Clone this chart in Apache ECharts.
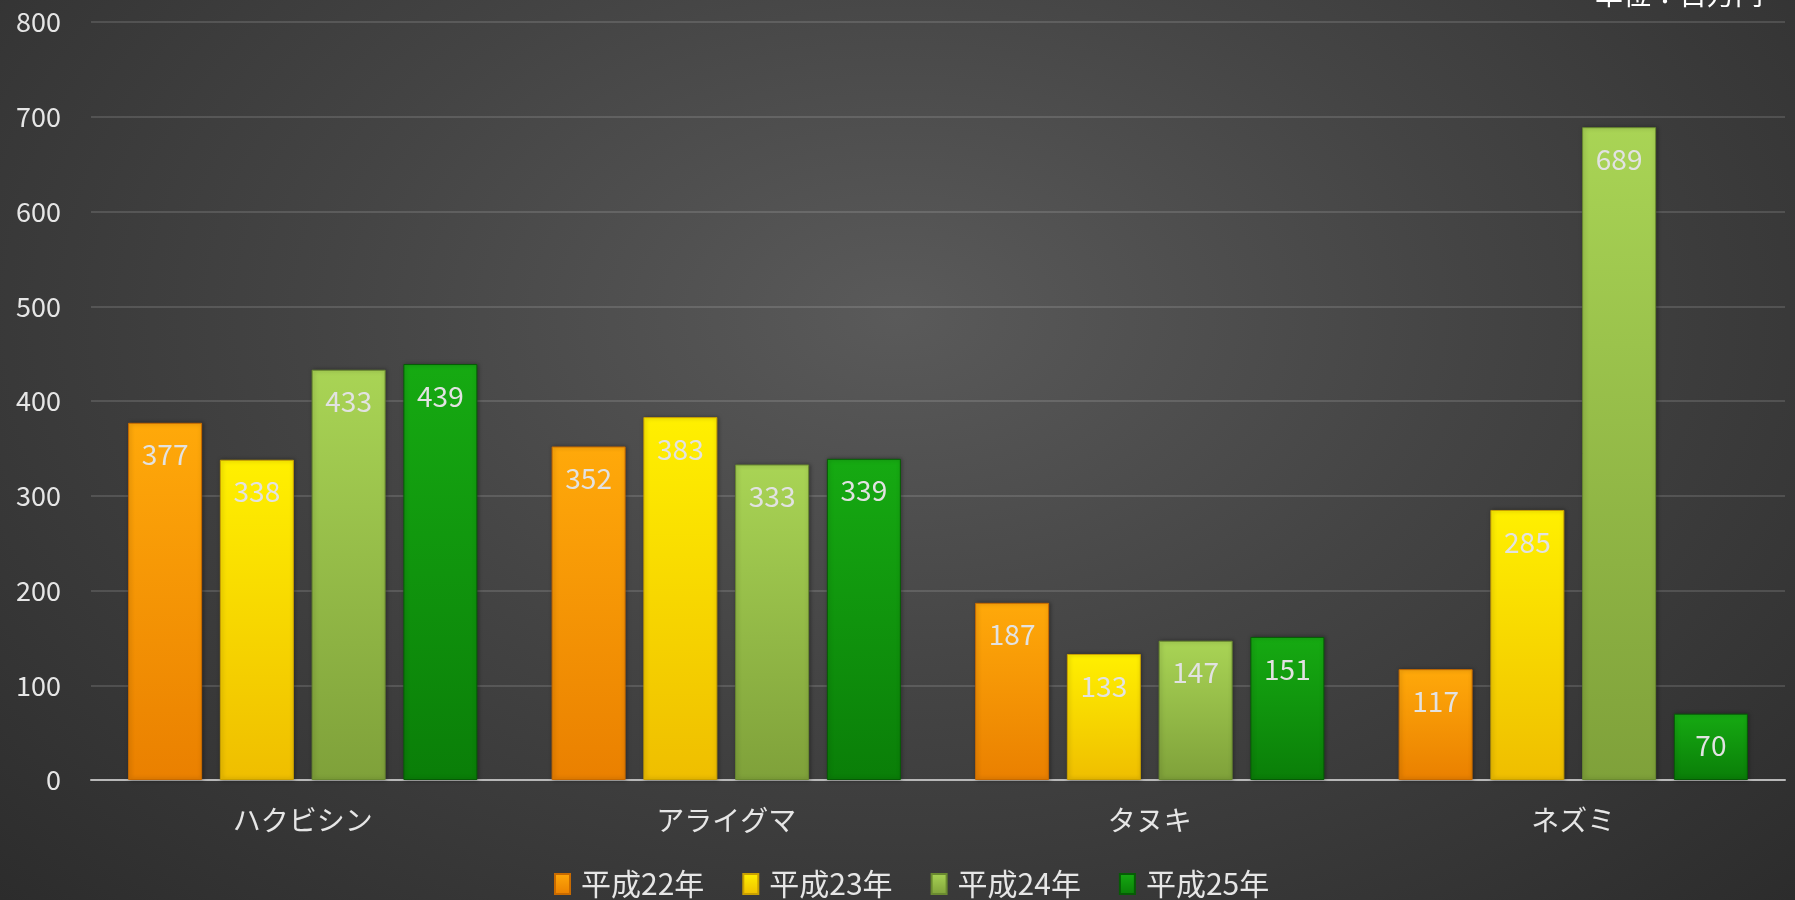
<!DOCTYPE html>
<html>
<head>
<meta charset="utf-8">
<script src="https://cdn.jsdelivr.net/npm/echarts@6/dist/echarts.min.js"></script>
<style>
    html, body { margin: 0; padding: 0; }
    body {
        width: 1795px;
        height: 900px;
        background: radial-gradient(ellipse at 50% 35%, #5a5a5a 0%, #444 45%, #2c2c2c 100%);
        overflow: hidden;
    }
    #main { width: 1795px; height: 900px; }
</style>
</head>
<body>
<div id="main"></div>
<script>
// 動物別の被害額（単位：百万円）
const categories = ['ハクビシン', 'アライグマ', 'タヌキ', 'ネズミ'];
const seriesNames = ['平成22年', '平成23年', '平成24年', '平成25年'];
const h22 = [377, 352, 187, 117];
const h23 = [338, 383, 133, 285];
const h24 = [433, 333, 147, 689];
const h25 = [439, 339, 151, 70];
const yTicks = [0, 100, 200, 300, 400, 500, 600, 700, 800];

const fontFamily = '"Noto Sans CJK JP", "Noto Sans", sans-serif';
// 上、下、縁の色
const palette = [
    ['#ffa90a', '#ea8000', '#c86a00'],
    ['#fff000', '#efbe00', '#c9a000'],
    ['#a9d455', '#7fa13a', '#6a8a30'],
    ['#16aa12', '#0a7e08', '#065c05']
];

function grad (c) {
    return new echarts.graphic.LinearGradient(0, 0, 0, 1, [
        { offset: 0, color: c[0] },
        { offset: 1, color: c[1] }
    ]);
}

const dataList = [h22, h23, h24, h25];
const series = dataList.map((data, i) => ({
    name: seriesNames[i],
    type: 'bar',
    data: data,
    barWidth: 74,
    barGap: '24%',
    itemStyle: {
        color: grad(palette[i]),
        borderColor: palette[i][2],
        borderWidth: 1,
        shadowColor: 'rgba(0,0,0,0.35)',
        shadowBlur: 4,
        shadowOffsetX: 1
    },
    label: {
        show: true,
        position: 'insideTop',
        distance: 18,
        color: '#e2e2e2',
        fontSize: 28,
        fontFamily: fontFamily
    }
}));

const myChart = echarts.init(document.getElementById('main'));
const option = {
    backgroundColor: 'transparent',
    animation: false,
    grid: { left: 91, right: 10, top: 22, bottom: 120 },
    legend: {
        left: 549,
        top: 864,
        icon: 'rect',
        itemWidth: 15,
        itemHeight: 20,
        itemGap: 38,
        textStyle: {
            color: '#e6e6e6',
            fontSize: 30,
            fontFamily: fontFamily,
            padding: [0, 0, 0, 6]
        },
        data: seriesNames
    },
    xAxis: {
        type: 'category',
        data: categories,
        axisLine: { lineStyle: { color: '#b8b8b8', width: 2 } },
        axisTick: { show: false },
        axisLabel: {
            color: '#e6e6e6',
            fontSize: 28,
            fontFamily: fontFamily,
            margin: 26
        }
    },
    yAxis: {
        type: 'value',
        min: yTicks[0],
        max: yTicks[yTicks.length - 1],
        interval: 100,
        axisLine: { show: false },
        axisTick: { show: false },
        splitLine: { lineStyle: { color: 'rgba(255,255,255,0.13)', width: 2 } },
        axisLabel: {
            color: '#e6e6e6',
            fontSize: 27,
            fontFamily: fontFamily,
            margin: 30
        }
    },
    graphic: [{
        type: 'text',
        right: 32,
        top: -20,
        style: {
            text: '単位：百万円',
            fill: '#ffffff',
            fontSize: 28,
            fontFamily: fontFamily
        }
    }],
    series: series
};
myChart.setOption(option);
</script>
</body>
</html>
